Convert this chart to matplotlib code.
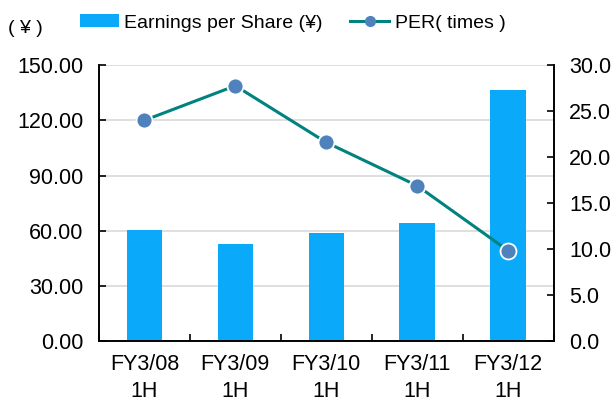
import numpy as np
import matplotlib.pyplot as plt
from matplotlib.ticker import FixedLocator
from matplotlib.lines import Line2D
from matplotlib.patches import Patch
from matplotlib import font_manager

plt.rcParams['font.family'] = ['Liberation Sans', 'Noto Sans CJK JP', 'DejaVu Sans']
names = sorted(set(f.name for f in font_manager.fontManager.ttflist))
narrow = 'Liberation Sans Narrow' if 'Liberation Sans Narrow' in names else 'Liberation Sans'

# data
periods = ['FY3/08\n1H', 'FY3/09\n1H', 'FY3/10\n1H', 'FY3/11\n1H', 'FY3/12\n1H']
eps = [60.3, 52.8, 58.8, 64.2, 136.4]
per = [24.0, 27.75, 21.6, 16.9, 9.85]
left_ticks = [0, 30, 60, 90, 120, 150]
right_ticks = [0, 5, 10, 15, 20, 25, 30]

bar_color = '#0BA9F9'
line_color = '#00827F'
marker_color = '#4F81BD'
fs = 15.5

fig = plt.figure(figsize=(6.16, 4.04), dpi=100)
ax = fig.add_axes([0.1607, 0.155, 0.738, 0.684])
x = np.arange(len(periods))

ax.bar(x, eps, width=0.39, color=bar_color, zorder=2)
ax.set_ylim(0, 150)
ax.set_xlim(-0.5, len(periods) - 0.5)
ax.set_yticks(left_ticks)
ax.set_yticklabels(['%.2f' % v for v in left_ticks])
ax.yaxis.grid(True, color='#D9D9D9', linewidth=1.2, zorder=0)
ax.set_axisbelow(True)

ax.set_xticks(x)
ax.set_xticklabels(periods, linespacing=1.4)
ax.xaxis.set_minor_locator(FixedLocator(np.arange(-0.5, len(periods), 1.0)))
ax.tick_params(axis='x', which='major', length=0, pad=9, labelsize=fs)
ax.tick_params(axis='x', which='minor', direction='in', length=5, width=1.2)
ax.tick_params(axis='y', direction='in', length=5, width=1.2, pad=11, labelsize=fs)

ax2 = ax.twinx()
ax2.plot(x, per, color=line_color, linewidth=2.2, marker='o', markersize=11.5,
         markerfacecolor=marker_color, markeredgecolor='white', markeredgewidth=1.3,
         zorder=3)
ax2.set_ylim(0, 30)
ax2.set_yticks(right_ticks)
ax2.set_yticklabels(['%.1f' % v for v in right_ticks])
ax2.tick_params(axis='y', direction='in', length=5, width=1.2, pad=11, labelsize=fs)

for a in (ax, ax2):
    a.spines['top'].set_visible(False)
    for s in ('left', 'right', 'bottom'):
        a.spines[s].set_linewidth(1.2)
        a.spines[s].set_color('black')

# legend handles (smaller marker than on the chart)
h_bar = Patch(facecolor=bar_color, edgecolor='none')
h_line = Line2D([], [], color=line_color, linewidth=2.2, marker='o', markersize=7,
                markerfacecolor=marker_color, markeredgecolor=marker_color)
fig.legend([h_bar, h_line], ['Earnings per Share (¥)', 'PER( times )'], loc='center',
           bbox_to_anchor=(0.475, 0.943), ncol=2, frameon=False,
           prop={'family': [narrow, 'Noto Sans CJK JP'], 'size': 14},
           handlelength=2.0, handleheight=0.62, handletextpad=0.3, columnspacing=1.4,
           borderpad=0, borderaxespad=0)

fig.text(0.013, 0.93, '( ¥ )', fontsize=14, family=[narrow, 'Noto Sans CJK JP'],
         va='center', ha='left')

fig.savefig('out.png', dpi=100)
